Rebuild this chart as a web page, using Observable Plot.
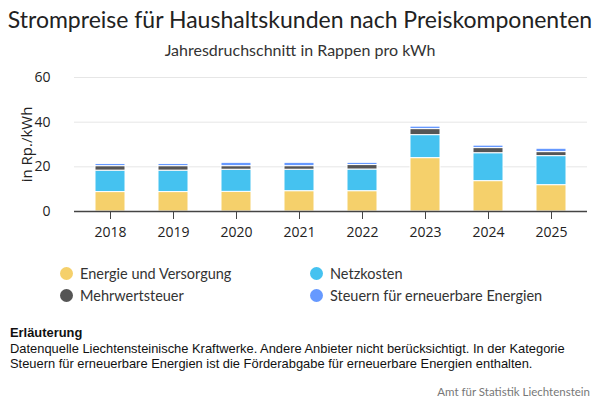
<!DOCTYPE html>
<html>
<head>
<meta charset="utf-8">
<script src="https://cdn.jsdelivr.net/npm/d3@7"></script>
<script src="https://cdn.jsdelivr.net/npm/@observablehq/plot@0.6"></script>
<style>
  body { margin: 0; width: 600px; height: 400px; background: #fff; font-family: "Lato", sans-serif; position: relative; overflow: hidden; }
  #title { position: absolute; top: 5px; left: 0; width: 600px; text-align: center; font-size: 23px; color: #222; }
  #subtitle { position: absolute; top: 40px; left: 0; width: 600px; text-align: center; font-size: 16px; color: #333; }
  #chart { position: absolute; top: 62px; left: 0; }
  .legend { position: absolute; font-size: 14.5px; color: #333; display: flex; align-items: center; }
  .legend span.dot { display: inline-block; width: 13px; height: 13px; border-radius: 50%; margin-right: 7px; }
  #note { position: absolute; left: 10px; top: 325px; font-family: "Liberation Sans", Arial, sans-serif; font-size: 12.9px; line-height: 15.5px; color: #111; width: 588px; }
  #source { position: absolute; right: 10px; top: 385px; font-size: 11.5px; color: #777; }
</style>
</head>
<body>
<div id="title">Strompreise für Haushaltskunden nach Preiskomponenten</div>
<div id="subtitle">Jahresdruchschnitt in Rappen pro kWh</div>
<div id="chart"></div>
<div id="legend"></div>
<div id="note"><b>Erläuterung</b><br>Datenquelle Liechtensteinische Kraftwerke. Andere Anbieter nicht berücksichtigt. In der Kategorie<br>Steuern für erneuerbare Energien ist die Förderabgabe für erneuerbare Energien enthalten.</div>
<div id="source">Amt für Statistik Liechtenstein</div>
<script>
const years = ["2018", "2019", "2020", "2021", "2022", "2023", "2024", "2025"];
const components = ["Energie und Versorgung", "Netzkosten", "Mehrwertsteuer", "Steuern für erneuerbare Energien"];
const colors = ["#F5D06B", "#45C2F0", "#555555", "#6699FF"];
const energie = [8.7, 8.7, 8.8, 9.1, 9.1, 23.9, 13.6, 11.8];
const netz = [9.6, 9.6, 9.9, 9.6, 9.7, 10.3, 12.5, 13.0];
const mwst = [2.0, 2.0, 1.6, 1.6, 2.0, 2.7, 2.3, 1.8];
const foerder = [1.0, 1.0, 1.5, 1.5, 1.0, 1.1, 1.1, 1.5];
const yTicks = [0, 20, 40, 60];

const series = [energie, netz, mwst, foerder];
const data = [];
years.forEach((y, i) => {
  components.forEach((c, k) => data.push({ year: y, component: c, value: series[k][i] }));
});

const chart = Plot.plot({
  width: 600,
  height: 188,
  marginTop: 15,
  marginBottom: 39,
  marginLeft: 74,
  marginRight: 13,
  style: { fontFamily: "'Open Sans', sans-serif", fontSize: "14px", color: "#222" },
  x: { domain: years, paddingInner: 0.53, paddingOuter: 0.32, label: null },
  y: { domain: [0, 60], ticks: yTicks, label: null },
  color: { domain: components, range: colors },
  marks: [
    Plot.gridY(yTicks, { stroke: "#e6e6e6", strokeOpacity: 1 }),
    Plot.axisY(yTicks, { tickSize: 0, tickPadding: 24, fontSize: 14, fill: "#222" }),
    Plot.axisX({ tickSize: 8, tickPadding: 8, fontSize: 14, stroke: "#444", fill: "#222" }),
    Plot.barY(data, Plot.stackY({ order: components }, { x: "year", y: "value", fill: "component", stroke: "#fff", strokeWidth: 1 })),
    Plot.ruleY([0], { stroke: "#444", strokeWidth: 1.3 }),
    Plot.text(["in Rp./kWh"], { frameAnchor: "left", textAnchor: "middle", dx: -47, rotate: -90, fontSize: 15, fill: "#222" })
  ]
});
document.getElementById("chart").appendChild(chart);

const legend = document.getElementById("legend");
const pos = [[60, 265], [310, 265], [60, 287], [310, 287]];
components.forEach((c, k) => {
  const d = document.createElement("div");
  d.className = "legend";
  d.style.left = pos[k][0] + "px";
  d.style.top = pos[k][1] + "px";
  d.innerHTML = `<span class="dot" style="background:${colors[k]}"></span>${c}`;
  legend.appendChild(d);
});
</script>
</body>
</html>
